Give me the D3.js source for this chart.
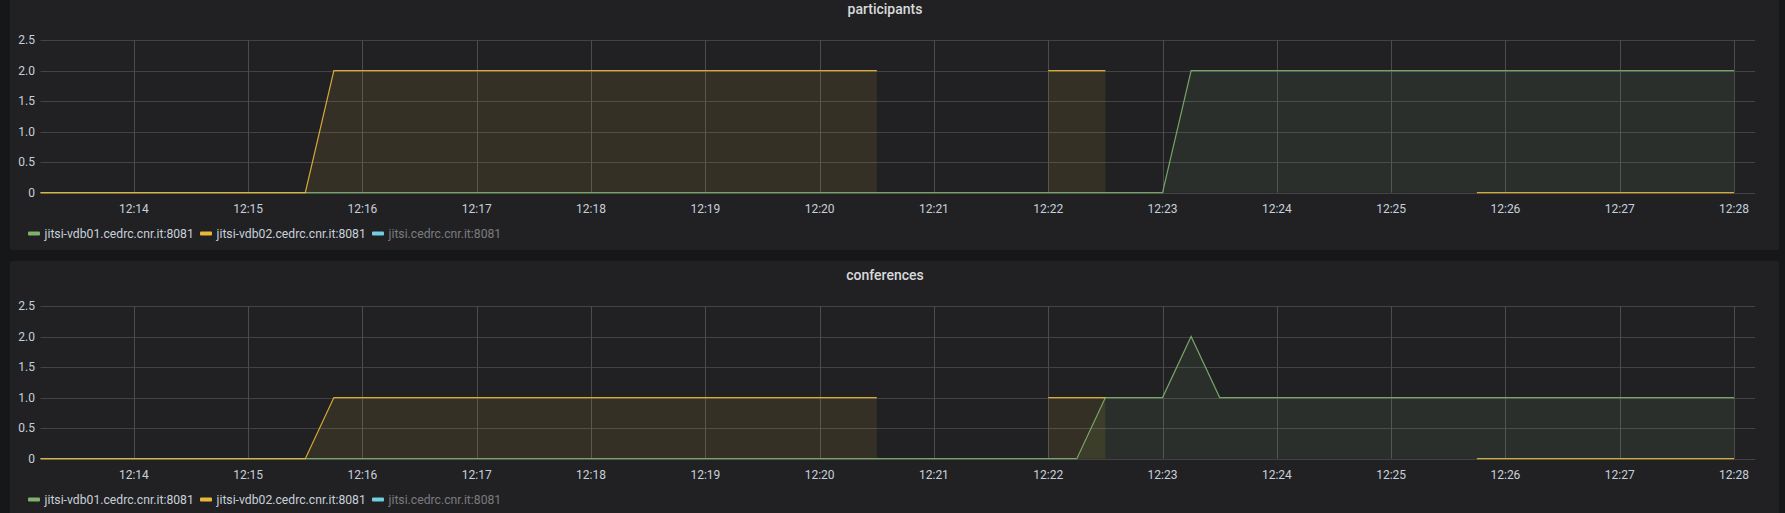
<!DOCTYPE html>
<html>
<head>
<meta charset="utf-8">
<script src="https://cdn.jsdelivr.net/npm/d3@7"></script>
<style>
  html, body { margin: 0; padding: 0; background: #161719; }
  svg { display: block; }
</style>
</head>
<body>
<svg id="chart" width="1785" height="513"></svg>
<script>
// ---- data ----
const panelTitles = ["participants", "conferences"];
const seriesNames = ["jitsi-vdb01.cedrc.cnr.it:8081", "jitsi-vdb02.cedrc.cnr.it:8081", "jitsi.cedrc.cnr.it:8081"];
const seriesColors = ["#7EB26D", "#EAB839", "#6ED0E0"];
const seriesHidden = [false, false, true];
const yTicks = [0, 0.5, 1.0, 1.5, 2.0, 2.5];
const yTickLabels = ["0", "0.5", "1.0", "1.5", "2.0", "2.5"];
const timeRange = ["12:13:11", "12:28:11"];

// participants (null = no data)
const participantsVdb01 = [["12:13:00", 0], ["12:23:00", 0], ["12:23:15", 2], ["12:28:00", 2]];
const participantsVdb02 = [["12:13:00", 0], ["12:15:30", 0], ["12:15:45", 2], ["12:20:30", 2], ["12:20:45", null],
                           ["12:22:00", 2], ["12:22:30", 2], ["12:22:45", null], ["12:25:45", 0], ["12:28:00", 0]];
// conferences
const conferencesVdb01 = [["12:13:00", 0], ["12:22:15", 0], ["12:22:30", 1], ["12:23:00", 1], ["12:23:15", 2],
                          ["12:23:30", 1], ["12:28:00", 1]];
const conferencesVdb02 = [["12:13:00", 0], ["12:15:30", 0], ["12:15:45", 1], ["12:20:30", 1], ["12:20:45", null],
                          ["12:22:00", 1], ["12:22:30", 1], ["12:22:45", null], ["12:25:45", 0], ["12:28:00", 0]];

const panelsData = [
  [participantsVdb01, participantsVdb02, []],
  [conferencesVdb01, conferencesVdb02, []]
];

// ---- layout ----
const parseT = d3.timeParse("%H:%M:%S");
const svg = d3.select("#chart");
const panelLeft = 10, panelRight = 1779, panelH = 255, panelStep = 266, firstTop = -5;
const plotL = 40.5, plotR = 1755, plotTop = 40, plotBottom = 192.7;

const x = d3.scaleTime().domain(timeRange.map(parseT)).range([plotL, plotR]);
const y = d3.scaleLinear().domain([0, 2.5]).range([plotBottom, plotTop]);
const xTicks = x.ticks(d3.timeMinute.every(1)).filter(t => x(t) > plotL + 5 && x(t) < plotR - 5);
const fmt = d3.timeFormat("%H:%M");
const font = "Roboto, 'Noto Sans', sans-serif";
const crisp = v => Math.round(v) + 0.5;

svg.append("defs").append("clipPath").attr("id", "plotclip").append("rect")
  .attr("x", plotL).attr("y", plotTop - 5).attr("width", plotR - plotL).attr("height", plotBottom - plotTop + 8);

panelsData.forEach((series, pi) => {
  const g = svg.append("g").attr("transform", `translate(0,${pi * panelStep})`);
  g.append("rect").attr("x", panelLeft).attr("y", firstTop).attr("width", panelRight - panelLeft)
    .attr("height", panelH).attr("rx", 2).attr("fill", "#212124");

  g.append("text").attr("x", 885).attr("y", 14).attr("text-anchor", "middle")
    .attr("font-family", font).attr("font-size", 14).attr("font-weight", 500)
    .attr("fill", "#d8d9da").text(panelTitles[pi]);

  // grid
  const grid = g.append("g").attr("stroke", "#434346").attr("stroke-width", 1).attr("fill", "none");
  yTicks.forEach(t => {
    grid.append("line").attr("x1", plotL).attr("x2", plotR).attr("y1", crisp(y(t))).attr("y2", crisp(y(t)));
  });
  xTicks.forEach(t => {
    grid.append("line").attr("x1", crisp(x(t))).attr("x2", crisp(x(t))).attr("y1", plotTop).attr("y2", plotBottom)
      .attr("stroke", "#4c4c4f");
  });

  // y labels
  yTicks.forEach((t, i) => {
    g.append("text").attr("x", 35).attr("y", y(t)).attr("dy", "0.35em").attr("text-anchor", "end")
      .attr("font-family", font).attr("font-size", 12).attr("fill", "#c7d0d9").text(yTickLabels[i]);
  });
  // x labels
  xTicks.forEach(t => {
    g.append("text").attr("x", x(t)).attr("y", 212.5).attr("text-anchor", "middle")
      .attr("font-family", font).attr("font-size", 12).attr("fill", "#c7d0d9").text(fmt(t));
  });

  const area = d3.area().defined(d => d[1] !== null)
    .x(d => x(parseT(d[0]))).y0(y(0)).y1(d => y(d[1]));
  const line = d3.line().defined(d => d[1] !== null)
    .x(d => x(parseT(d[0]))).y(d => y(d[1]));

  const plot = g.append("g").attr("clip-path", "url(#plotclip)");
  series.forEach((s, si) => {
    if (!s.length) return;
    plot.append("path").datum(s).attr("d", area).attr("fill", seriesColors[si]).attr("fill-opacity", 0.1);
  });
  series.forEach((s, si) => {
    if (!s.length) return;
    plot.append("path").datum(s).attr("d", line).attr("fill", "none")
      .attr("stroke", seriesColors[si]).attr("stroke-width", 1.2).attr("stroke-opacity", 0.9);
  });

  // legend
  const legendX = [28, 200, 372];
  const lg = g.append("g");
  seriesNames.forEach((name, si) => {
    lg.append("rect").attr("x", legendX[si]).attr("y", 231.5).attr("width", 12).attr("height", 4).attr("rx", 1)
      .attr("fill", seriesColors[si]);
    lg.append("text").attr("x", legendX[si] + 16.5).attr("y", 233.5).attr("dy", "0.35em")
      .attr("font-family", font).attr("font-size", 12.2)
      .attr("fill", seriesHidden[si] ? "#7b7b7e" : "#c7d0d9").text(name);
  });
});
</script>
</body>
</html>
